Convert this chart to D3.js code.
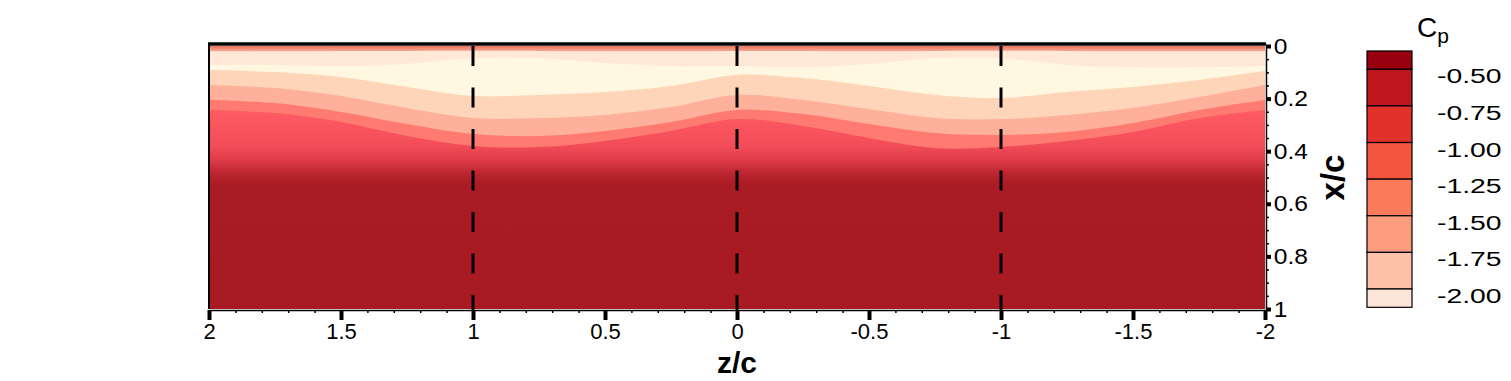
<!DOCTYPE html>
<html>
<head>
<meta charset="utf-8">
<script src="https://cdn.jsdelivr.net/npm/d3@7"></script>
<style>
  body { margin: 0; background: #fff; }
  svg { display: block; }
  text { font-family: "Liberation Sans", Arial, sans-serif; fill: #000; }
</style>
</head>
<body>
<svg id="canvas" width="1511" height="381"></svg>
<script>
// spanwise stations (z/c) where the contour edges were read
const zGrid = [2, 1.75, 1.5, 1.25, 1, 0.75, 0.5, 0.25, 0, -0.25, -0.5, -0.75, -1, -1.25, -1.5, -1.75, -2];

// chordwise position (x/c) of each contour edge at the stations above
const edgeLeading = [0.020, 0.020, 0.019, 0.019, 0.018, 0.019, 0.020, 0.020, 0.019, 0.019, 0.020, 0.019, 0.018, 0.019, 0.020, 0.020, 0.020];
const edgePale    = [0.072, 0.072, 0.076, 0.068, 0.046, 0.046, 0.065, 0.076, 0.076, 0.080, 0.068, 0.046, 0.046, 0.072, 0.080, 0.080, 0.076];
const edgeCp200   = [0.091, 0.099, 0.118, 0.156, 0.190, 0.186, 0.175, 0.152, 0.110, 0.122, 0.152, 0.186, 0.198, 0.175, 0.156, 0.129, 0.095];
const edgeCp175   = [0.148, 0.160, 0.190, 0.236, 0.274, 0.274, 0.262, 0.232, 0.186, 0.205, 0.240, 0.274, 0.278, 0.262, 0.236, 0.194, 0.148];
const edgeCp150   = [0.205, 0.217, 0.251, 0.297, 0.335, 0.342, 0.323, 0.289, 0.243, 0.259, 0.297, 0.331, 0.338, 0.327, 0.293, 0.243, 0.205];
const edgeCp125   = [0.243, 0.255, 0.289, 0.342, 0.380, 0.384, 0.361, 0.323, 0.278, 0.304, 0.350, 0.388, 0.384, 0.361, 0.327, 0.274, 0.243];

const xTicks = [2, 1.5, 1, 0.5, 0, -0.5, -1, -1.5, -2];
const xTickLabels = ["2", "1.5", "1", "0.5", "0", "-0.5", "-1", "-1.5", "-2"];
const yTicks = [0, 0.2, 0.4, 0.6, 0.8, 1];
const yTickLabels = ["0", "0.2", "0.4", "0.6", "0.8", "1"];
const dashStations = [1, 0, -1];

const cpLevels = [-0.5, -0.75, -1, -1.25, -1.5, -1.75, -2];
const cpLabels = ["-0.50", "-0.75", "-1.00", "-1.25", "-1.50", "-1.75", "-2.00"];
const legendEdges = [-0.375, -0.5, -0.75, -1, -1.25, -1.5, -1.75, -2, -2.125];
const legendColors = ["#99000f", "#c0161e", "#e2302a", "#f4553e", "#fa7a5a", "#fc9c7e", "#fdc0a8", "#fee5d9"];

// shaded colours as they show on the surface
const bandFills = ["#ff7b72", "#ffb09a", "#ffd5b9", "#fff7df", "#ffe8d8"];

const svg = d3.select("#canvas");

const x = d3.scaleLinear().domain([2, -2]).range([209, 1265]);
const y = d3.scaleLinear().domain([0, 1]).range([46, 309]);

const defs = svg.append("defs");

defs.append("clipPath").attr("id", "plotClip")
  .append("rect")
  .attr("x", x(2)).attr("y", y(0))
  .attr("width", x(-2) - x(2)).attr("height", y(1) - y(0));

// smooth fade of the aft region
const fade = defs.append("linearGradient")
  .attr("id", "redFade")
  .attr("gradientUnits", "userSpaceOnUse")
  .attr("x1", 0).attr("x2", 0)
  .attr("y1", y(0)).attr("y2", y(1));
[[0, "#ff5c64"], [0.24, "#ff5c64"], [0.38, "#f24c58"], [0.43, "#e03c4a"], [0.47, "#c62b37"],
 [0.50, "#b42129"], [0.53, "#aa1c24"], [1, "#a81a22"]]
  .forEach(([o, c]) => fade.append("stop").attr("offset", o).attr("stop-color", c));

const lead = defs.append("linearGradient")
  .attr("id", "leadFade")
  .attr("gradientUnits", "userSpaceOnUse")
  .attr("x1", 0).attr("x2", 0)
  .attr("y1", y(0)).attr("y2", y(0.02));
[[0, "#e8705e"], [1, "#f8ac94"]]
  .forEach(([o, c]) => lead.append("stop").attr("offset", o).attr("stop-color", c));

const plot = svg.append("g").attr("clip-path", "url(#plotClip)");

plot.append("rect")
  .attr("x", x(2)).attr("y", y(0))
  .attr("width", x(-2) - x(2)).attr("height", y(1) - y(0))
  .attr("fill", "url(#redFade)");

const band = d3.area()
  .x(d => x(d.z))
  .y0(y(0) - 2)
  .y1(d => y(d.xc))
  .curve(d3.curveCatmullRom);

const edges = [edgeCp125, edgeCp150, edgeCp175, edgeCp200, edgePale];
edges.forEach((edge, i) => {
  plot.append("path")
    .attr("d", band(zGrid.map((z, j) => ({ z: z, xc: edge[j] }))))
    .attr("fill", bandFills[i]);
});
plot.append("path")
  .attr("d", band(zGrid.map((z, j) => ({ z: z, xc: edgeLeading[j] }))))
  .attr("fill", "url(#leadFade)");

// dashed spanwise markers
svg.selectAll("line.marker")
  .data(dashStations)
  .enter()
  .append("line")
  .attr("class", "marker")
  .attr("x1", d => x(d)).attr("x2", d => x(d))
  .attr("y1", y(0)).attr("y2", y(1) + 2)
  .attr("stroke", "#000")
  .attr("stroke-width", 3)
  .attr("stroke-dasharray", "20,21.5");

// frame
svg.append("line")
  .attr("x1", x(2) - 1).attr("x2", x(-2) + 1)
  .attr("y1", y(0) - 2).attr("y2", y(0) - 2)
  .attr("stroke", "#000").attr("stroke-width", 3.5);
svg.append("line")
  .attr("x1", x(2)).attr("x2", x(2))
  .attr("y1", y(0) - 3).attr("y2", y(1))
  .attr("stroke", "#000").attr("stroke-width", 2);

// bottom axis
const minorZ = d3.range(-20, 21).map(i => i / 10).filter(v => Math.abs(v * 2 - Math.round(v * 2)) > 1e-6);
const gxMinor = svg.append("g")
  .attr("transform", `translate(0,${y(1) + 1})`)
  .call(d3.axisBottom(x).tickValues(minorZ).tickSize(3).tickSizeOuter(0).tickFormat(""));
gxMinor.select(".domain").remove();
gxMinor.selectAll(".tick line").attr("stroke-width", 1.5);

const gx = svg.append("g")
  .attr("transform", `translate(0,${y(1) + 1})`)
  .call(d3.axisBottom(x).tickValues(xTicks).tickSize(10).tickSizeOuter(0).tickPadding(3)
    .tickFormat((d, i) => xTickLabels[i]));
gx.select(".domain").attr("stroke-width", 1.5);
gx.selectAll(".tick line").attr("stroke-width", 4);
gx.selectAll(".tick text").attr("font-size", 22).attr("font-family", "Liberation Sans, Arial, sans-serif");

svg.append("text")
  .attr("x", x(0)).attr("y", 373)
  .attr("text-anchor", "middle")
  .attr("font-size", 30).attr("font-weight", "bold")
  .text("z/c");

// right axis
const minorX = d3.range(0, 21).map(i => i / 20).filter(v => Math.abs(v * 5 - Math.round(v * 5)) > 1e-6);
const gyMinor = svg.append("g")
  .attr("transform", `translate(${x(-2) + 1},0)`)
  .call(d3.axisRight(y).tickValues(minorX).tickSize(3).tickSizeOuter(0).tickFormat(""));
gyMinor.select(".domain").remove();
gyMinor.selectAll(".tick line").attr("stroke-width", 1.5);

const gy = svg.append("g")
  .attr("transform", `translate(${x(-2) + 1},0)`)
  .call(d3.axisRight(y).tickValues(yTicks).tickSize(5).tickSizeOuter(0).tickPadding(2)
    .tickFormat((d, i) => yTickLabels[i]));
gy.select(".domain").attr("stroke-width", 1.5);
gy.selectAll(".tick line").attr("stroke-width", 4);
gy.selectAll(".tick text").attr("font-size", 22).attr("font-family", "Liberation Sans, Arial, sans-serif")
  .attr("transform", "scale(1.12,1)");

svg.append("text")
  .attr("transform", `translate(1344,${y(0.5)}) rotate(-90)`)
  .attr("text-anchor", "middle")
  .attr("font-size", 33).attr("font-weight", "bold")
  .text("x/c");

// colour legend
const ly = d3.scaleLinear().domain([-0.5, -2]).range([69.3, 289]);
const legend = svg.append("g");
legend.selectAll("rect.cell")
  .data(legendColors)
  .enter()
  .append("rect")
  .attr("class", "cell")
  .attr("x", 1367).attr("width", 45)
  .attr("y", (d, i) => ly(legendEdges[i]))
  .attr("height", (d, i) => ly(legendEdges[i + 1]) - ly(legendEdges[i]))
  .attr("fill", d => d)
  .attr("stroke", "#000")
  .attr("stroke-width", 1.2);

legend.selectAll("text.lab")
  .data(cpLevels)
  .enter()
  .append("text")
  .attr("class", "lab")
  .attr("transform", d => `translate(1437,${ly(d) + 14}) scale(1.35,1)`)
  .attr("font-size", 21)
  .text((d, i) => cpLabels[i]);

const title = legend.append("text")
  .attr("x", 1417).attr("y", 37)
  .attr("font-family", "Liberation Serif, DejaVu Serif, serif")
  .attr("font-size", 28);
title.append("tspan").text("C");
title.append("tspan").attr("dy", 6).attr("font-size", 21).text("p");
</script>
</body>
</html>
